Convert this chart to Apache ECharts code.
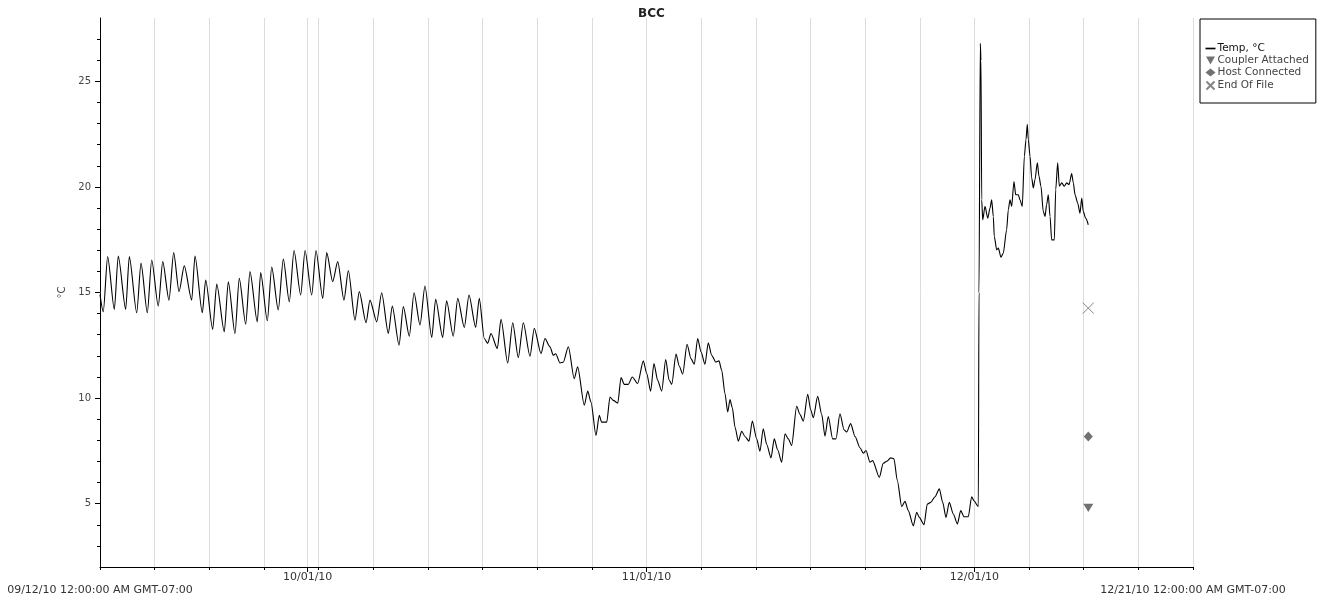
<!DOCTYPE html>
<html>
<head>
<meta charset="utf-8">
<script src="https://cdn.jsdelivr.net/npm/echarts@6/dist/echarts.min.js"></script>
<style>
  html, body { margin: 0; padding: 0; background: #fff; }
  #chart { width: 1318px; height: 601px; }
</style>
</head>
<body>
<div id="chart"></div>
<script>
// Logger start: 09/12/10 00:00 (GMT-07:00); x values are elapsed days from that moment.
const startDateUTC = Date.UTC(2010, 8, 12);
const rangeDays = [0, 100];

// Temperature record (°C) sampled at the daily highs/lows and notable turns.
const elapsedDays = [
  0, 0.30, 0.70, 1.31, 1.67, 2.35, 2.68, 3.36, 3.75, 4.33, 4.73, 5.33, 5.74, 6.31, 6.74, 7.23, 7.71, 8.39, 8.69, 9.36,
  9.67, 10.31, 10.68, 11.37, 11.74, 12.35, 12.74, 13.33, 13.72, 14.39, 14.70, 15.31, 15.71, 16.31, 16.77, 17.32, 17.75, 18.36, 18.76, 19.37,
  19.76, 20.38, 20.74, 21.29, 21.75, 22.32, 22.72, 23.33, 23.72, 24.34, 24.70, 25.32, 25.77, 26.38, 26.74, 27.36, 27.75, 28.30, 28.73, 29.28,
  29.73, 30.35, 30.71, 31.35, 31.71, 32.32, 32.73, 33.33, 33.76, 34.37, 34.70, 35.16, 35.47, 35.77, 36.35, 36.69, 37.30, 37.76, 38.27, 38.73,
  39.34, 39.73, 40.35, 40.71, 41.17, 41.47, 41.69, 42.09, 42.39, 42.85, 43.39, 43.70, 44.31, 44.62, 44.92, 45.38, 45.68, 45.90, 46.36, 46.66,
  46.96, 47.37, 47.67, 47.97, 48.33, 48.70, 49.19, 49.71, 50.02, 50.38, 50.68, 51.02, 51.39, 51.76, 52.06, 52.31, 52.70, 53.00, 53.31, 53.71,
  54.07, 54.37, 54.68, 54.99, 55.35, 55.65, 55.96, 56.33, 56.63, 56.88, 57.18, 57.43, 57.64, 57.85, 58.10, 58.40, 58.71, 59.01, 59.38, 59.68,
  60.08, 60.38, 60.68, 61.00, 61.39, 61.69, 62.00, 62.37, 62.67, 62.97, 63.28, 63.74, 64.04, 64.35, 64.75, 65.02, 65.26, 65.66, 66.03, 66.33,
  66.63, 67.03, 67.34, 67.70, 68.07, 68.31, 68.68, 69.08, 69.53, 69.84, 70.08, 70.45, 70.69, 71.30, 71.66, 71.98, 72.34, 72.64, 72.95, 73.35,
  73.65, 73.95, 74.41, 74.72, 74.96, 75.39, 75.69, 76.00, 76.40, 76.79, 77.10, 77.40, 77.70, 78.07, 78.44, 78.75, 79.05, 79.44, 79.75, 79.96,
  80.36, 80.42, 80.54, 80.60, 80.67, 80.76, 80.97, 81.22, 81.43, 81.58, 81.73, 81.82, 82.04, 82.19, 82.43, 82.64, 82.95, 83.10, 83.26, 83.41,
  83.62, 83.78, 84.02, 84.17, 84.38, 84.57, 84.72, 84.84, 84.93, 85.09, 85.24, 85.39, 85.54, 85.76, 85.91, 86.09, 86.30, 86.46, 86.61, 86.76,
  86.92, 87.07, 87.31, 87.44, 87.62, 87.77, 87.99, 88.23, 88.44, 88.66, 88.90, 89.05, 89.21, 89.45, 89.66, 89.82, 89.96, 90.18, 90.42
];
const tempC = [
  14.90, 14.09, 16.70, 14.20, 16.73, 14.20, 16.70, 14.04, 16.39, 14.04, 16.54, 14.36, 16.46, 14.64, 16.89, 15.04, 16.26, 14.64, 16.73, 14.04,
  15.59, 13.25, 15.40, 13.14, 15.51, 13.06, 15.67, 13.50, 15.99, 13.61, 15.94, 13.66, 16.20, 14.17, 16.58, 14.56, 16.99, 14.88, 16.99, 14.88,
  16.99, 14.72, 16.89, 15.51, 16.46, 14.64, 16.04, 13.69, 15.04, 13.57, 14.64, 13.61, 14.99, 13.06, 14.36, 12.51, 14.33, 12.93, 14.99, 13.46,
  15.31, 12.87, 14.68, 12.87, 14.61, 12.93, 14.72, 13.35, 14.88, 13.35, 14.72, 12.82, 12.59, 13.06, 12.35, 13.73, 11.66, 13.57, 11.92, 13.57,
  11.98, 13.30, 12.11, 12.82, 12.43, 12.03, 12.10, 11.66, 11.70, 12.43, 10.92, 11.48, 9.66, 10.33, 9.81, 8.23, 9.18, 8.86, 8.86, 10.05,
  9.89, 9.76, 10.97, 10.65, 10.65, 11.00, 10.69, 11.76, 11.16, 10.33, 11.64, 10.84, 10.33, 11.83, 10.87, 10.65, 12.08, 11.51, 11.13, 12.55,
  11.87, 11.60, 12.82, 12.19, 11.60, 12.62, 12.03, 11.71, 11.76, 11.32, 10.21, 9.34, 9.93, 9.55, 8.62, 7.96, 8.43, 8.18, 7.96, 8.91,
  8.07, 7.48, 8.55, 7.80, 7.17, 8.07, 7.55, 6.96, 8.31, 8.07, 7.76, 9.61, 9.23, 8.91, 10.18, 9.45, 9.07, 10.08, 9.23, 8.20,
  9.13, 8.07, 8.07, 9.26, 8.50, 8.39, 8.79, 8.18, 7.65, 7.39, 7.52, 6.96, 7.04, 6.25, 6.91, 7.01, 7.17, 7.12, 6.09, 4.86,
  5.11, 4.67, 3.95, 4.59, 4.35, 4.00, 4.98, 5.06, 5.33, 5.70, 5.06, 4.35, 5.06, 4.51, 4.04, 4.67, 4.38, 4.38, 5.33, 5.14,
  4.86, 15.00, 26.80, 26.00, 19.39, 18.44, 19.08, 18.52, 19.00, 19.39, 18.60, 17.65, 17.02, 17.10, 16.67, 16.86, 17.97, 18.92, 19.39, 19.08,
  20.26, 19.63, 19.63, 19.39, 19.08, 21.45, 22.24, 22.96, 22.24, 21.45, 20.43, 19.95, 20.34, 21.14, 20.50, 20.03, 18.84, 18.60, 19.16, 19.63,
  18.60, 17.49, 17.49, 19.87, 21.14, 20.03, 20.19, 20.03, 20.19, 20.11, 20.63, 20.19, 19.63, 19.24, 18.76, 19.47, 18.84, 18.52, 18.21
];

// Logger events, all recorded at readout time.
const eventDay = 90.42;
const couplerAttached = [[eventDay, 4.80]];
const hostConnected = [[eventDay, 8.18]];
const endOfFile = [[eventDay, 14.26]];

// Axis tick values
const monthTickDays = [19, 50, 80];
const edgeTickDays = [0, 100];
const yMajorTicks = [5, 10, 15, 20, 25];
const yMinorTicks = [3, 4, 5, 6, 7, 8, 9, 10, 11, 12, 13, 14, 15, 16, 17, 18, 19, 20, 21, 22, 23, 24, 25, 26, 27];
const yRange = [2, 28];

const pad = n => (n < 10 ? '0' : '') + n;
function dayToDate(v) {
  const d = new Date(startDateUTC + Math.round(v * 86400000));
  return pad(d.getUTCMonth() + 1) + '/' + pad(d.getUTCDate()) + '/' + pad(d.getUTCFullYear() % 100);
}

const FONT = 'DejaVu Sans';
const tempSeries = elapsedDays.map((d, i) => [d, tempC[i]]);

// Marker shapes
const LEGEND_LINE = 'path://M0,4 L12,4 L12,6 L0,6 Z';
const DOWN_TRIANGLE = 'path://M0,0 L10,0 L5,9 Z';
const CROSS = 'path://M0,0 L10,10 M10,0 L0,10';

const chart = echarts.init(document.getElementById('chart'), null, { renderer: 'canvas' });
chart.setOption({
  animation: false,
  backgroundColor: '#fff',
  title: {
    text: 'BCC',
    left: 646.5,
    top: 3,
    textAlign: 'center',
    textStyle: { fontFamily: FONT, fontSize: 12, fontWeight: 'bold', color: '#222' }
  },
  legend: {
    orient: 'vertical',
    left: 1200,
    top: 19,
    padding: [24, 7, 11, 4],
    itemWidth: 10,
    itemHeight: 8,
    itemGap: 1,
    borderColor: '#000',
    borderWidth: 1,
    selectedMode: false,
    textStyle: { fontFamily: FONT, fontSize: 10.5, color: '#444', padding: [0, 0, 0, -3] },
    data: [
      { name: 'Temp, °C', icon: LEGEND_LINE, textStyle: { color: '#111' } },
      { name: 'Coupler Attached' },
      { name: 'Host Connected' },
      { name: 'End Of File' }
    ]
  },
  grid: { left: 100, right: 125, top: 18, bottom: 34, containLabel: false },
  xAxis: [
    {
      type: 'value',
      position: 'bottom',
      min: rangeDays[0],
      max: rangeDays[1],
      interval: 5,
      axisLine: { show: true, lineStyle: { color: '#000', width: 1 } },
      axisTick: { show: true, length: 3, lineStyle: { color: '#000' } },
      splitLine: { show: true, lineStyle: { color: '#dcdcdc', width: 1 } },
      axisLabel: {
        customValues: edgeTickDays,
        margin: 18,
        fontFamily: FONT,
        fontSize: 11,
        color: '#333',
        hideOverlap: false,
        showMinLabel: true,
        showMaxLabel: true,
        formatter: v => dayToDate(v) + ' 12:00:00 AM GMT-07:00'
      }
    },
    {
      type: 'value',
      position: 'bottom',
      min: rangeDays[0],
      max: rangeDays[1],
      axisLine: { show: false },
      axisTick: { show: true, customValues: monthTickDays, length: 5, lineStyle: { color: '#000' } },
      splitLine: { show: false },
      axisLabel: {
        customValues: monthTickDays,
        margin: 5,
        fontFamily: FONT,
        fontSize: 11,
        color: '#333',
        formatter: v => dayToDate(v)
      }
    }
  ],
  yAxis: [
    {
      type: 'value',
      position: 'left',
      min: yRange[0],
      max: yRange[1],
      name: '°C',
      nameLocation: 'middle',
      nameGap: 32,
      nameTextStyle: { fontFamily: FONT, fontSize: 10, color: '#444' },
      axisLine: { show: true, lineStyle: { color: '#000', width: 1 } },
      axisTick: { show: true, customValues: yMinorTicks, length: 3, lineStyle: { color: '#000' } },
      splitLine: { show: false },
      axisLabel: {
        customValues: yMajorTicks,
        margin: 9,
        fontFamily: FONT,
        fontSize: 10,
        color: '#444'
      }
    },
    {
      type: 'value',
      position: 'left',
      min: yRange[0],
      max: yRange[1],
      axisLine: { show: false },
      axisTick: { show: true, customValues: yMajorTicks, length: 5, lineStyle: { color: '#000' } },
      axisLabel: { show: false },
      splitLine: { show: false }
    }
  ],
  series: [
    {
      name: 'Temp, °C',
      type: 'line',
      xAxisIndex: 0,
      yAxisIndex: 0,
      data: tempSeries,
      symbol: 'none',
      showSymbol: false,
      symbolKeepAspect: true,
      smooth: 0.25,
      smoothMonotone: 'x',
      lineStyle: { color: '#000', width: 1.1 },
      itemStyle: { color: '#000' },
      z: 3,
      markLine: {
        silent: true,
        symbol: 'none',
        z: 1,
        label: { show: false },
        lineStyle: { color: '#dcdcdc', width: 1, type: 'solid' },
        data: [{ xAxis: monthTickDays[0] }]
      }
    },
    {
      name: 'Coupler Attached',
      type: 'scatter',
      data: couplerAttached,
      symbol: DOWN_TRIANGLE,
      symbolSize: [10, 9],
      symbolKeepAspect: true,
      itemStyle: { color: '#4d4d4d' },
      z: 4
    },
    {
      name: 'Host Connected',
      type: 'scatter',
      data: hostConnected,
      symbol: 'diamond',
      symbolSize: [9, 10],
      symbolKeepAspect: true,
      itemStyle: { color: '#4d4d4d' },
      z: 4
    },
    {
      name: 'End Of File',
      type: 'scatter',
      data: endOfFile,
      symbol: CROSS,
      symbolSize: 11,
      symbolKeepAspect: true,
      itemStyle: { color: 'none', borderColor: '#666', borderWidth: 1 },
      z: 4
    }
  ]
});
</script>
</body>
</html>
